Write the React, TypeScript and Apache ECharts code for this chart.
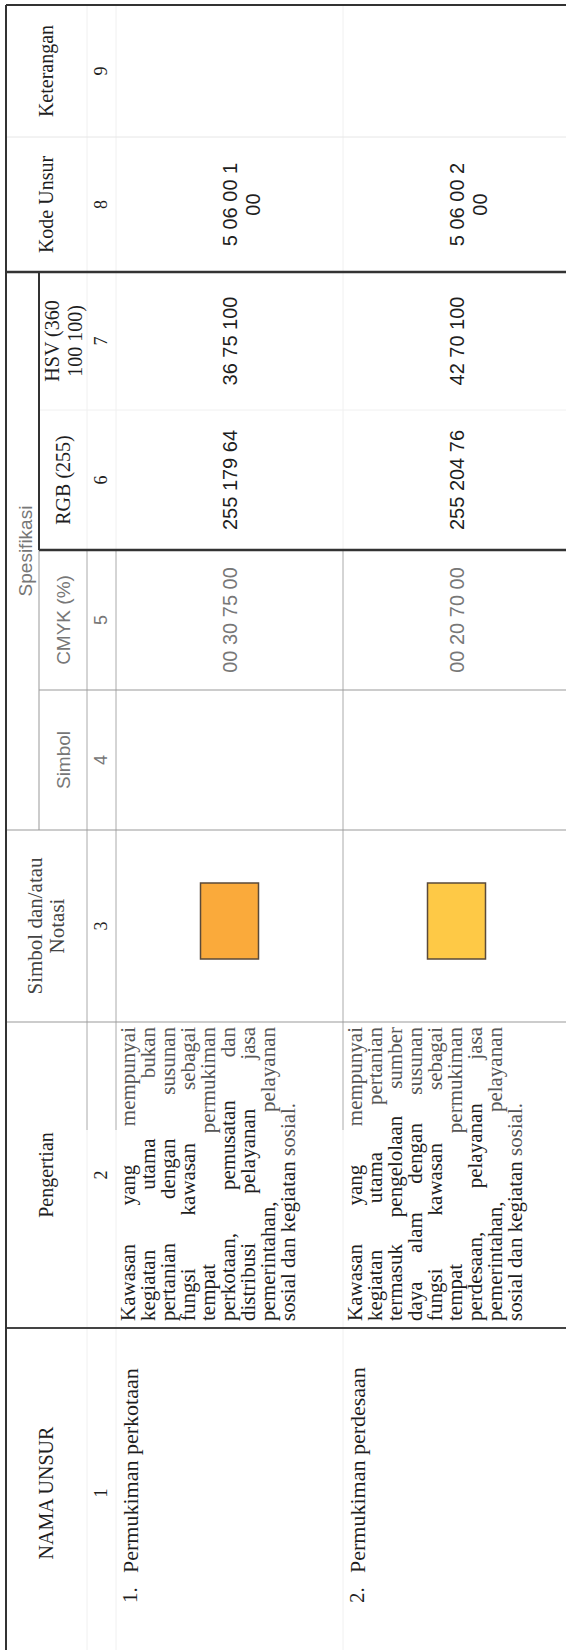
import React, { useEffect, useRef } from "react";
import * as echarts from "echarts";

// ---------- data ----------
const columnHeaders = [
  "NAMA UNSUR",
  "Pengertian",
  "Simbol dan/atau\nNotasi",
  "Simbol",
  "CMYK (%)",
  "RGB (255)",
  "HSV (360\n100 100)",
  "Kode Unsur",
  "Keterangan",
];
const columnNumbers = ["1", "2", "3", "4", "5", "6", "7", "8", "9"];
const groupHeader = "Spesifikasi";
const itemNumbers = ["1.", "2."];
const itemNames = ["Permukiman perkotaan", "Permukiman perdesaan"];
const pengertianPerkotaan = [
  "Kawasan yang mempunyai",
  "kegiatan utama bukan",
  "pertanian dengan susunan",
  "fungsi kawasan sebagai",
  "tempat permukiman",
  "perkotaan, pemusatan dan",
  "distribusi pelayanan jasa",
  "pemerintahan, pelayanan",
  "sosial dan kegiatan sosial.",
];
const pengertianPerdesaan = [
  "Kawasan yang mempunyai",
  "kegiatan utama pertanian",
  "termasuk pengelolaan sumber",
  "daya alam dengan susunan",
  "fungsi kawasan sebagai",
  "tempat permukiman",
  "perdesaan, pelayanan jasa",
  "pemerintahan, pelayanan",
  "sosial dan kegiatan sosial.",
];
const pengertian = [pengertianPerkotaan, pengertianPerdesaan];
const cmykValues = ["00 30 75 00", "00 20 70 00"];
const rgbValues = ["255 179 64", "255 204 76"];
const hsvValues = ["36 75 100", "42 70 100"];
const kodeUnsurValues = ["5 06 00 1\n00", "5 06 00 2\n00"];
const symbolFills = ["#FAAA3B", "#FEC946"];

// ---------- component ----------
export default function App() {
  const ref = useRef<HTMLDivElement>(null);

  useEffect(() => {
    const el = ref.current;
    if (!el) return;
    const chart = echarts.init(el, null, { renderer: "svg" });

    const canvas = document.createElement("canvas");
    const ctx = canvas.getContext("2d") as CanvasRenderingContext2D;
    const SERIF = '"Liberation Serif"';
    const SANS = '"Liberation Sans"';
    const measure = (t: string, size: number, fam: string) => {
      ctx.font = `${size}px ${fam}`;
      return ctx.measureText(t).width;
    };

    const DARK = "#1e1e1e";
    const GREY = "#777";
    const ROT = Math.PI / 2;
    const els: any[] = [];

    const text = (
      t: string,
      x: number,
      y: number,
      o: { size?: number; fam?: string; fill?: string; align?: string; lh?: number } = {}
    ) => {
      const align = o.align || "center";
      els.push({
        type: "text",
        x,
        y,
        rotation: ROT,
        silent: true,
        style: {
          text: t,
          fill: o.fill || DARK,
          fontSize: o.size || 20,
          fontFamily: o.fam || SERIF,
          textAlign: align,
          align,
          textVerticalAlign: "middle",
          verticalAlign: "middle",
          lineHeight: o.lh || Math.round((o.size || 20) * 1.15),
        },
      });
    };
    const line = (x1: number, y1: number, x2: number, y2: number, stroke: string, w: number) => {
      els.push({ type: "line", silent: true, shape: { x1, y1, x2, y2 }, style: { stroke, lineWidth: w } });
    };

    // layout (screen coordinates; the table is rotated 90deg counter-clockwise)
    const colEdges = [1658, 1328, 1022, 830, 690, 550, 410, 272, 137, 5];
    const L = 6, SPLIT = 39, HEAD = 87, NUM = 116, R1 = 343, R2 = 570, RIGHT = 566;
    const rowTops = [NUM, R1];
    const rowCenters = [(NUM + R1) / 2, (R1 + R2) / 2];
    const colCenter = (i: number) => (colEdges[i] + colEdges[i + 1]) / 2;

    // grid
    const faint = "#f0f0f0";
    [HEAD, NUM, R1].forEach((x) => {
      line(x, 5, x, 550, faint, 1);
      line(x, 550, x, 1130, "#aaa", 1);
      line(x, 1130, x, 1650, faint, 1);
    });
    line(L, colEdges[8], RIGHT, colEdges[8], "#e6e6e6", 1);
    line(SPLIT, colEdges[6], RIGHT, colEdges[6], faint, 1);
    line(SPLIT, colEdges[4], RIGHT, colEdges[4], "#999", 1);
    line(L, colEdges[3], RIGHT, colEdges[3], "#999", 1);
    line(L, colEdges[2], RIGHT, colEdges[2], "#999", 1);
    line(SPLIT, colEdges[7], SPLIT, colEdges[5], "#333", 2);
    line(SPLIT, colEdges[5], SPLIT, colEdges[3], "#999", 1);
    line(L, colEdges[7], RIGHT, colEdges[7], "#333", 2.5);
    line(SPLIT, colEdges[5], RIGHT, colEdges[5], "#333", 2.5);
    line(L, colEdges[1], RIGHT, colEdges[1], "#444", 2);
    line(L, 5, RIGHT, 5, "#333", 2);
    line(L, 5, L, 1650, "#333", 2);

    // headers
    columnHeaders.forEach((h, i) => {
      const inGroup = i >= 3 && i <= 6;
      const x = inGroup ? 63 : 46;
      const sansGrey = i === 3 || i === 4;
      text(h, x, colCenter(i), {
        size: i === 2 ? 21 : sansGrey ? 19 : 20,
        fam: sansGrey ? SANS : SERIF,
        fill: sansGrey ? GREY : i === 2 ? "#444" : DARK,
        lh: i === 2 ? 22 : 23,
      });
      text(columnNumbers[i], 101, colCenter(i), {
        size: 18,
        fam: sansGrey ? SANS : SERIF,
        fill: sansGrey ? GREY : DARK,
      });
    });
    text(groupHeader, 25, (colEdges[7] + colEdges[3]) / 2, { size: 19, fam: SANS, fill: GREY });

    // rows
    const PS = 21;
    const pTop = colEdges[2] + 5;
    const pBottom = colEdges[1] - 7;
    const pWidth = pBottom - pTop;
    for (let r = 0; r < 2; r++) {
      const top = rowTops[r];
      const cx = rowCenters[r];
      text(itemNumbers[r], top + 14, 1603, { align: "left", size: 21 });
      text(itemNames[r], top + 14, 1573, { align: "left", size: 22 });

      const lines = pengertian[r];
      lines.forEach((ln, j) => {
        const x = top + 12 + j * 20;
        const words = ln.split(" ");
        const last = j === lines.length - 1;
        const widths = words.map((w) => measure(w, PS, SERIF));
        const total = widths.reduce((a, b) => a + b, 0);
        const gap = last || words.length < 2 ? measure(" ", PS, SERIF) : (pWidth - total) / (words.length - 1);
        let cur = pBottom;
        words.forEach((w, k) => {
          const mid = cur - widths[k] / 2;
          text(w, x, cur, { align: "left", size: PS, fill: mid < 1132 ? "#555" : DARK });
          cur -= widths[k] + gap;
        });
      });

      els.push({
        type: "rect",
        silent: true,
        shape: { x: cx - 29, y: 921 - 38, width: 58, height: 76 },
        style: { fill: symbolFills[r], stroke: "#5a4a3a", lineWidth: 1.5 },
      });
      text(cmykValues[r], cx, colCenter(4), { fam: SANS, size: 20, fill: GREY });
      text(rgbValues[r], cx, colCenter(5), { fam: SANS, size: 20 });
      text(hsvValues[r], cx, colCenter(6), { fam: SANS, size: 20 });
      text(kodeUnsurValues[r], cx + 12, colCenter(7), { fam: SANS, size: 20, lh: 23 });
    }

    chart.setOption({
      animation: false,
      backgroundColor: "#fff",
      graphic: { elements: els },
    });

    return () => chart.dispose();
  }, []);

  return (
    <div
      ref={ref}
      style={{ position: "absolute", left: 0, top: 0, width: 566, height: 1650, background: "#fff" }}
    />
  );
}
